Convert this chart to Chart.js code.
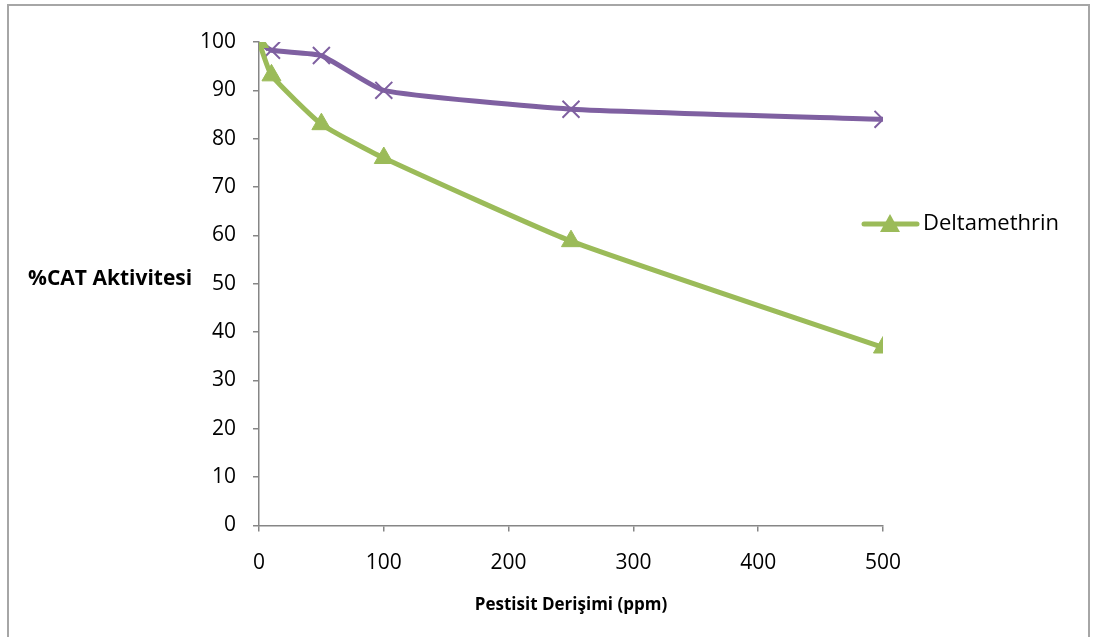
<!DOCTYPE html>
<html>
<head>
<meta charset="utf-8">
<script src="https://cdn.jsdelivr.net/npm/chart.js@4"></script>
<style>
    html, body { margin: 0; padding: 0; background: #fff; }
    #wrap { position: relative; width: 1097px; height: 637px; overflow: hidden; }
    #frame { position: absolute; left: 7px; top: 4px; width: 1083px; height: 700px; border: 2px solid #a6a6a6; box-sizing: border-box; }
    canvas { position: absolute; left: 0; top: 0; }
</style>
</head>
<body>
<div id="wrap">
    <div id="frame"></div>
    <canvas id="catChart" width="1097" height="637"></canvas>
</div>
<script>
// Data
const concentrations = [0, 10, 50, 100, 250, 500];
const controlActivity = [100, 98.3, 97.2, 90, 86.1, 84];
const deltamethrinActivity = [100, 93.1, 83, 76, 58.8, 36.8];
const xTicks = [0, 100, 200, 300, 400, 500];
const yTicks = [0, 10, 20, 30, 40, 50, 60, 70, 80, 90, 100];

const seriesLabels = ['', 'Deltamethrin'];
const xTitle = 'Pestisit Derişimi (ppm)';
const yTitle = '%CAT Aktivitesi';

const purple = '#7f60a1';
const green = '#9bbb59';
const axisGray = '#868686';
const fontFamily = "'Open Sans', sans-serif";

function toPoints(xs, ys) {
    return xs.map((x, i) => ({ x: x, y: ys[i] }));
}

// y title is horizontal in the original, so draw it ourselves
const yTitlePlugin = {
    id: 'yTitle',
    afterDraw(chart) {
        const ctx = chart.ctx;
        const area = chart.chartArea;
        ctx.save();
        ctx.font = "bold 21px " + fontFamily;
        ctx.fillStyle = '#000';
        ctx.textAlign = 'left';
        ctx.textBaseline = 'middle';
        ctx.fillText(yTitle, 28, (area.top + area.bottom) / 2 - 5);
        ctx.restore();
    }
};

// Excel style legend: line + marker, only the named series
const legendPlugin = {
    id: 'excelLegend',
    afterDraw(chart) {
        const ctx = chart.ctx;
        const ds = chart.data.datasets[0];
        const y = 224;
        ctx.save();
        ctx.strokeStyle = ds.borderColor;
        ctx.lineWidth = 5;
        ctx.lineCap = 'round';
        ctx.beginPath();
        ctx.moveTo(864, y);
        ctx.lineTo(917, y);
        ctx.stroke();
        ctx.fillStyle = ds.pointBackgroundColor;
        ctx.beginPath();
        ctx.moveTo(890, y - 10);
        ctx.lineTo(900, y + 8);
        ctx.lineTo(880, y + 8);
        ctx.closePath();
        ctx.fill();
        ctx.font = "22px " + fontFamily;
        ctx.fillStyle = '#000';
        ctx.textBaseline = 'middle';
        ctx.fillText(ds.label, 923, y);
        ctx.restore();
    }
};

function init() {
    const ctx = document.getElementById('catChart').getContext('2d');

    new Chart(ctx, {
        type: 'line',
        data: {
            datasets: [
                {
                    label: seriesLabels[1],
                    data: toPoints(concentrations, deltamethrinActivity),
                    borderColor: green,
                    backgroundColor: green,
                    borderWidth: 5,
                    tension: 0.15,
                    pointStyle: 'triangle',
                    pointRadius: 11,
                    pointBackgroundColor: green,
                    pointBorderColor: green,
                    pointBorderWidth: 1
                },
                {
                    label: seriesLabels[0],
                    data: toPoints(concentrations, controlActivity),
                    borderColor: purple,
                    backgroundColor: purple,
                    borderWidth: 5,
                    tension: 0.15,
                    pointStyle: 'crossRot',
                    pointRadius: 12,
                    pointBorderColor: purple,
                    pointBorderWidth: 2
                }
            ]
        },
        options: {
            responsive: false,
            animation: false,
            layout: { padding: { left: 0, top: 42, right: 214, bottom: 19 } },
            plugins: {
                legend: { display: false },
                tooltip: { enabled: false }
            },
            scales: {
                x: {
                    type: 'linear',
                    min: 0,
                    max: 500,
                    afterBuildTicks(scale) { scale.ticks = xTicks.map(v => ({ value: v })); },
                    grid: { drawOnChartArea: false, drawTicks: true, tickLength: 6, color: axisGray, lineWidth: 1.5 },
                    border: { color: axisGray, width: 1.5 },
                    ticks: { color: '#000', padding: 19, maxRotation: 0, font: { family: fontFamily, size: 21 } },
                    title: {
                        display: true,
                        text: xTitle,
                        color: '#000',
                        padding: { top: 0, bottom: 3 },
                        font: { family: fontFamily, size: 17, weight: 'bold' }
                    }
                },
                y: {
                    min: 0,
                    max: 100,
                    afterBuildTicks(scale) { scale.ticks = yTicks.map(v => ({ value: v })); },
                    afterFit(scale) { scale.width = 259; },
                    grid: { drawOnChartArea: false, drawTicks: true, tickLength: 6, color: axisGray, lineWidth: 1.5 },
                    border: { color: axisGray, width: 1.5 },
                    ticks: { color: '#000', padding: 17, font: { family: fontFamily, size: 21 } }
                }
            }
        },
        plugins: [yTitlePlugin, legendPlugin]
    });
}

document.addEventListener('DOMContentLoaded', init);
</script>
</body>
</html>
